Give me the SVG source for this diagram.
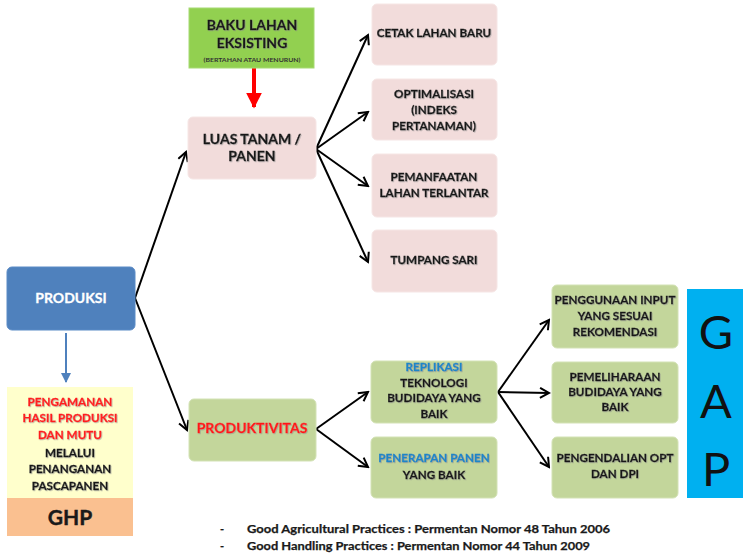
<svg xmlns="http://www.w3.org/2000/svg" width="743" height="555" viewBox="0 0 743 555">
<style>
text{font-family:Lato,"Open Sans","Liberation Sans",sans-serif;font-weight:bold;text-anchor:middle;}
.t{font-size:11.7px;fill:#1a1a1a;stroke:#1a1a1a;stroke-width:0.3;filter:url(#sh);}
.pink{fill:#F2DCDB;stroke:#F6E6E5;stroke-width:1;}
.green{fill:#C3D69B;stroke:#D3E2B5;stroke-width:1;}
.conn line{stroke:#000;stroke-width:2;marker-end:url(#ah);}
.foot{font-size:11px;fill:#1a1a1a;stroke:#1a1a1a;stroke-width:0.25;text-anchor:start;}
</style>
<defs>
<filter id="sh" x="-10%" y="-30%" width="120%" height="160%">
<feDropShadow dx="0.8" dy="0.8" stdDeviation="0.4" flood-color="#888" flood-opacity="0.6"/>
</filter>
<marker id="ah" viewBox="0 0 12 12" refX="10" refY="6" markerWidth="6" markerHeight="6" orient="auto" markerUnits="strokeWidth">
<path d="M1,1 L10,6 L1,11" fill="none" stroke="#000" stroke-width="2"/>
</marker>
<marker id="ahb" viewBox="0 0 10 10" refX="9" refY="5" markerWidth="5" markerHeight="5" orient="auto" markerUnits="strokeWidth">
<path d="M0,0 L10,5 L0,10 z" fill="#4F81BD"/>
</marker>
<marker id="ahr" viewBox="0 0 10 10" refX="9" refY="5" markerWidth="4" markerHeight="4" orient="auto" markerUnits="strokeWidth">
<path d="M0,0 L10,5 L0,10 z" fill="#FF0000"/>
</marker>
</defs>
<rect width="743" height="555" fill="#fff"/>

<g id="connectors" class="conn">
<line x1="135" y1="298" x2="186" y2="152"/>
<line x1="135" y1="298" x2="187" y2="430"/>
<line x1="316" y1="149" x2="368" y2="35"/>
<line x1="316" y1="149" x2="368" y2="112"/>
<line x1="316" y1="149" x2="368" y2="186"/>
<line x1="316" y1="149" x2="368" y2="262"/>
<line x1="316" y1="429" x2="368" y2="392"/>
<line x1="316" y1="429" x2="368" y2="467"/>
<line x1="498" y1="392" x2="549" y2="320"/>
<line x1="498" y1="392" x2="549" y2="393"/>
<line x1="498" y1="392" x2="549" y2="467"/>
<line x1="66" y1="333" x2="66" y2="382" style="stroke:#4F81BD;marker-end:url(#ahb)"/>
<line x1="254" y1="68" x2="254" y2="107" style="stroke:#FF0000;stroke-width:4;marker-end:url(#ahr)"/>
</g>

<g id="baku">
<rect x="189" y="8" width="125" height="60" fill="#92D050" stroke="#A6DA72"/>
<text x="252" y="30" class="t" style="font-size:14px">BAKU LAHAN</text>
<text x="252" y="48" class="t" style="font-size:14px">EKSISTING</text>
<text x="252" y="62" style="font-size:5px;fill:#333" textLength="97" lengthAdjust="spacingAndGlyphs">(BERTAHAN ATAU MENURUN)</text>
</g>

<g id="luas">
<rect x="188" y="117" width="128" height="62" rx="5" class="pink"/>
<text x="252" y="144" class="t" style="font-size:14px">LUAS TANAM /</text>
<text x="252" y="161" class="t" style="font-size:14px">PANEN</text>
</g>

<g id="cetak">
<rect x="372" y="4" width="125" height="61" rx="5" class="pink"/>
<text x="434" y="37" class="t">CETAK LAHAN BARU</text>
</g>

<g id="optimalisasi">
<rect x="372" y="79" width="125" height="61" rx="5" class="pink"/>
<text x="434" y="98" class="t">OPTIMALISASI</text>
<text x="434" y="114" class="t">(INDEKS</text>
<text x="434" y="130" class="t">PERTANAMAN)</text>
</g>

<g id="pemanfaatan">
<rect x="372" y="154" width="125" height="63" rx="5" class="pink"/>
<text x="434" y="181" class="t">PEMANFAATAN</text>
<text x="434" y="197" class="t">LAHAN TERLANTAR</text>
</g>

<g id="tumpang">
<rect x="372" y="230" width="125" height="62" rx="5" class="pink"/>
<text x="434" y="264" class="t">TUMPANG SARI</text>
</g>

<g id="produksi">
<rect x="7" y="267" width="128" height="63" rx="5" fill="#4F81BD" stroke="#5B8BC6"/>
<text x="71" y="303" style="font-size:14px;fill:#fff;stroke:#fff;stroke-width:0.3">PRODUKSI</text>
</g>

<g id="pengamanan">
<rect x="7" y="387" width="126" height="111" fill="#FFFFCC"/>
<text x="70" y="406" class="t" style="fill:#FF2020;stroke:#FF2020">PENGAMANAN</text>
<text x="70" y="422" class="t" style="fill:#FF2020;stroke:#FF2020">HASIL PRODUKSI</text>
<text x="70" y="439" class="t" style="fill:#FF2020;stroke:#FF2020">DAN MUTU</text>
<text x="70" y="457" class="t">MELALUI</text>
<text x="70" y="473" class="t">PENANGANAN</text>
<text x="70" y="490" class="t">PASCAPANEN</text>
</g>

<g id="ghp">
<rect x="7" y="498" width="126" height="38" fill="#FAC090"/>
<text x="70" y="525" style="font-size:21px;fill:#1a1a1a;stroke:#1a1a1a;stroke-width:0.4">GHP</text>
</g>

<g id="produktivitas">
<rect x="189" y="399" width="127" height="62" rx="5" class="green"/>
<text x="252" y="433" class="t" style="font-size:14px;fill:#FF1A1A;stroke:#FF1A1A">PRODUKTIVITAS</text>
</g>

<g id="replikasi">
<rect x="371" y="361" width="126" height="62" rx="5" class="green"/>
<text x="434" y="371" class="t" style="fill:#1F86C8;stroke:#1F86C8">REPLIKASI</text>
<text x="434" y="387" class="t">TEKNOLOGI</text>
<text x="434" y="402" class="t">BUDIDAYA YANG</text>
<text x="434" y="418" class="t">BAIK</text>
</g>

<g id="penerapan">
<rect x="371" y="437" width="126" height="61" rx="5" class="green"/>
<text x="434" y="462" class="t" style="fill:#1F86C8;stroke:#1F86C8">PENERAPAN PANEN</text>
<text x="434" y="479" class="t">YANG BAIK</text>
</g>

<g id="penggunaan">
<rect x="552" y="285" width="126" height="63" rx="5" class="green"/>
<text x="615" y="304" class="t">PENGGUNAAN INPUT</text>
<text x="615" y="320" class="t">YANG SESUAI</text>
<text x="615" y="336" class="t">REKOMENDASI</text>
</g>

<g id="pemeliharaan">
<rect x="552" y="362" width="126" height="61" rx="5" class="green"/>
<text x="615" y="381" class="t">PEMELIHARAAN</text>
<text x="615" y="396" class="t">BUDIDAYA YANG</text>
<text x="615" y="411" class="t">BAIK</text>
</g>

<g id="pengendalian">
<rect x="552" y="437" width="126" height="61" rx="5" class="green"/>
<text x="615" y="462" class="t">PENGENDALIAN OPT</text>
<text x="615" y="478" class="t">DAN DPI</text>
</g>

<g id="gap">
<rect x="687" y="289" width="56" height="209" fill="#00B0F0"/>
<text x="716" y="349" style="font-size:47px;font-weight:normal;fill:#111">G</text>
<text x="716" y="418" style="font-size:47px;font-weight:normal;fill:#111">A</text>
<text x="716" y="486" style="font-size:47px;font-weight:normal;fill:#111">P</text>
</g>

<g id="footer">
<text x="220" y="533" class="foot">-</text>
<text x="220" y="550" class="foot">-</text>
<text x="247" y="533" class="foot" textLength="363" lengthAdjust="spacingAndGlyphs">Good Agricultural Practices  : Permentan Nomor 48 Tahun 2006</text>
<text x="247" y="550" class="foot" textLength="343" lengthAdjust="spacingAndGlyphs">Good Handling Practices : Permentan Nomor 44 Tahun 2009</text>
</g>
</svg>
